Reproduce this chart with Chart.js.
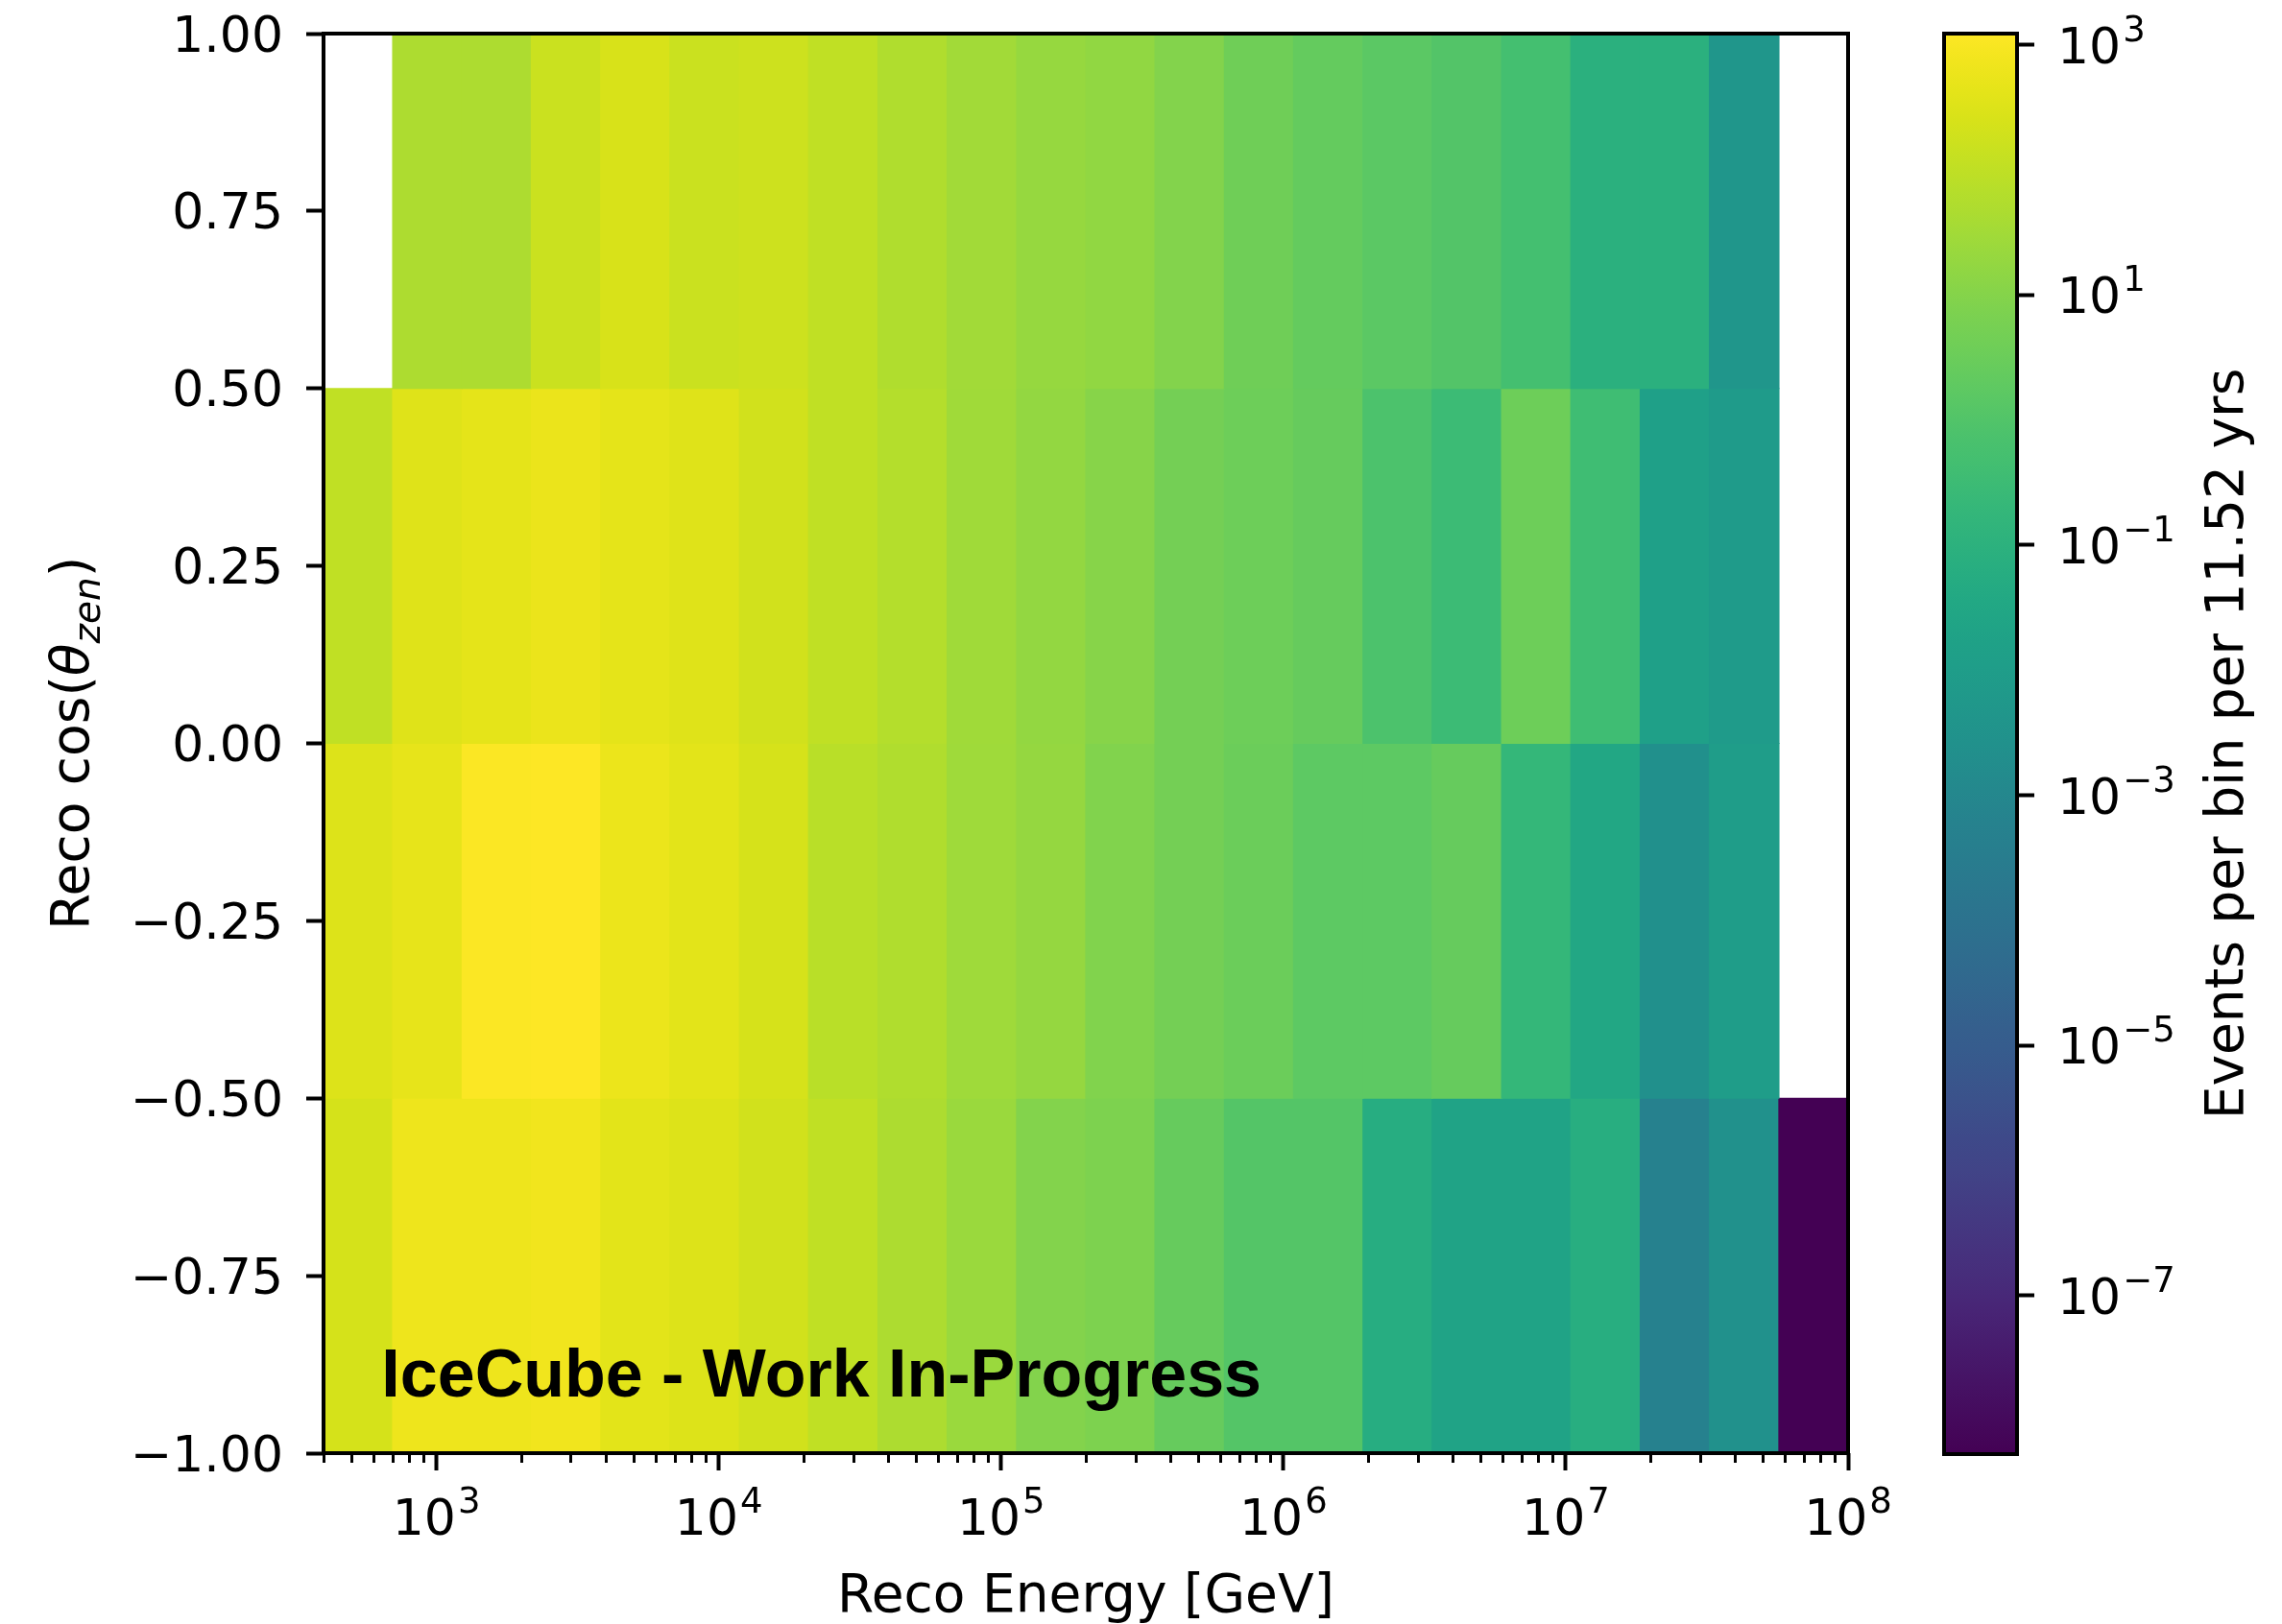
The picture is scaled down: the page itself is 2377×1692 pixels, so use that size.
<!DOCTYPE html>
<html><head><meta charset="utf-8">
<script src="https://cdn.jsdelivr.net/npm/chart.js@4/dist/chart.umd.min.js"></script>
<style>
html,body{margin:0;padding:0;background:#fff;overflow:hidden;}
#wrap{position:relative;width:2377px;height:1692px;background:#fff;}
#main{position:absolute;left:0;top:0;}
#cbar{position:absolute;left:1990px;top:0;}
</style></head><body>
<div id="wrap">
<canvas id="main" width="1990" height="1692"></canvas>
<canvas id="cbar" width="387" height="1692"></canvas>
</div>
<script>
// ---------------- data ----------------
// reconstructed energy bin edges, log10(E / GeV)
const energyEdgesLog10 = [2.600, 2.845, 3.091, 3.336, 3.582, 3.827, 4.073, 4.318, 4.564, 4.809, 5.055, 5.300, 5.545, 5.791, 6.036, 6.282, 6.527, 6.773, 7.018, 7.264, 7.509, 7.755, 8.000];
// reco cos(zenith) bins (top to bottom)
const cosZenRows = ['0.50 – 1.00', '0.00 – 0.50', '−0.50 – 0.00', '−1.00 – −0.50'];
// events per bin per 11.52 yrs (null = empty bin)
const eventsCos05to1   = [null, 46.8, 46.8, 152, 256, 152, 173, 103, 53.3, 31.6, 19.7, 16.4, 9.25, 3.90, 2.31, 1.56, 1.05, 0.481, 0.0879, 0.0879, 0.00434, null];
const eventsCos0to05   = [103, 333, 432, 561, 432, 333, 197, 103, 64.0, 29.2, 17.8, 11.1, 4.81, 3.51, 2.56, 0.769, 0.308, 3.51, 0.370, 0.0141, 0.00834, null];
const eventsCosM05to0  = [308, 468, 1150, 1230, 592, 400, 237, 78.9, 53.3, 27.7, 18.7, 8.55, 4.81, 3.24, 1.69, 1.69, 2.56, 0.192, 0.0333, 0.00244, 0.0095, null];
const eventsCosM1toM05 = [225, 640, 640, 729, 400, 308, 197, 103, 46.8, 23.1, 9.25, 7.50, 2.56, 1.14, 1.14, 0.0593, 0.0208, 0.0208, 0.0676, 0.000535, 0.00257, 5.4e-9];
// axis ticks
const xTickValues = [1e3, 1e4, 1e5, 1e6, 1e7, 1e8];
const xTickLabels = ['10^3', '10^4', '10^5', '10^6', '10^7', '10^8'];
const yTickValues = [-1, -0.75, -0.5, -0.25, 0, 0.25, 0.5, 0.75, 1];
const cbarTickValues = [1e3, 1e1, 1e-1, 1e-3, 1e-5, 1e-7];
const cbarTickLabels = ['10^3', '10^1', '10^−1', '10^−3', '10^−5', '10^−7'];

// ---------------- colormap (viridis) ----------------
const VIRIDIS = [[0,'#440154'],[0.1,'#482475'],[0.1111,'#482878'],[0.125,'#472d7b'],[0.1429,'#46327e'],[0.2,'#414487'],[0.2222,'#3e4989'],[0.25,'#3b528b'],[0.2857,'#365c8d'],[0.3,'#355f8d'],[0.3333,'#31688e'],[0.375,'#2c728e'],[0.4,'#2a788e'],[0.4286,'#277f8e'],[0.4444,'#26828e'],[0.5,'#21918c'],[0.5556,'#1f9e89'],[0.5714,'#1fa187'],[0.6,'#22a884'],[0.625,'#28ae80'],[0.6667,'#35b779'],[0.7,'#44bf70'],[0.7143,'#4ac16d'],[0.75,'#5ec962'],[0.7778,'#6ece58'],[0.8,'#7ad151'],[0.8571,'#a0da39'],[0.875,'#addc30'],[0.8889,'#b5de2b'],[0.9,'#bddf26'],[0.92,'#cae11f'],[0.94,'#d8e219'],[0.96,'#e5e419'],[0.98,'#f1e51d'],[1,'#fde725']];
function hex2rgb(h){return [parseInt(h.slice(1,3),16),parseInt(h.slice(3,5),16),parseInt(h.slice(5,7),16)];}
function viridis(t){
  t = Math.max(0, Math.min(1, t));
  for (let i = 1; i < VIRIDIS.length; i++) {
    if (t <= VIRIDIS[i][0]) {
      const [t0,c0] = VIRIDIS[i-1], [t1,c1] = VIRIDIS[i];
      const f = (t - t0) / (t1 - t0), a = hex2rgb(c0), b = hex2rgb(c1);
      return 'rgb(' + a.map((v,k) => Math.round(v + (b[k]-v)*f)).join(',') + ')';
    }
  }
  return VIRIDIS[VIRIDIS.length-1][1];
}

const rows = [eventsCos05to1, eventsCos0to05, eventsCosM05to0, eventsCosM1toM05];
const allVals = rows.flat().filter(v => v != null);
const vmin = Math.min(...allVals), vmax = Math.max(...allVals);
const lmin = Math.log10(vmin), lmax = Math.log10(vmax);
const colorFor = v => viridis((Math.log10(v) - lmin) / (lmax - lmin));

const FONT = 'DejaVu Sans';
const TICK_SIZE = 52;
const TICK_FONT = {family: FONT, size: TICK_SIZE};
const LABEL_SIZE = 55;
const zeroPad = s => { s.paddingTop = 0; s.paddingBottom = 0; s.paddingLeft = 0; s.paddingRight = 0; };

// draw "10^e" with a raised, smaller exponent
function drawPow(c, label, x, baseline, align) {
  const [base, exp] = label.split('^');
  const fMain = TICK_SIZE + 'px "' + FONT + '"', fSup = Math.round(TICK_SIZE * 0.71) + 'px "' + FONT + '"';
  c.font = fMain; const wb = c.measureText(base).width;
  c.font = fSup; const we = c.measureText(exp).width;
  const gap = 2;
  const x0 = align === 'center' ? x - (wb + gap + we) / 2 : x;
  c.textAlign = 'left'; c.textBaseline = 'alphabetic'; c.fillStyle = '#000';
  c.font = fMain; c.fillText(base, x0, baseline);
  c.font = fSup; c.fillText(exp, x0 + wb + gap, baseline - 23);
}

// ---------------- main 2D histogram ----------------
const datasets = rows.map((vals, r) => ({
  label: 'cos θ ' + cosZenRows[r],
  data: vals.map((v, i) => v == null ? null : {x: [Math.pow(10, energyEdgesLog10[i]), Math.pow(10, energyEdgesLog10[i+1])], y: cosZenRows[r], v: v}).filter(d => d),
  xAxisID: 'x', yAxisID: 'yc',
  backgroundColor: ctx => (ctx.raw && ctx.raw.v != null) ? colorFor(ctx.raw.v) : 'rgba(0,0,0,0)',
  borderWidth: 0, inflateAmount: 0.6,
  barPercentage: 1, categoryPercentage: 1, grouped: false
}));

const minorTicks = [];
for (let e = 2; e < 8; e++) for (let m = 2; m <= 9; m++) {
  const v = m * Math.pow(10, e);
  if (v >= Math.pow(10, energyEdgesLog10[0]) && v <= 1e8) minorTicks.push(v);
}

const framePlugin = {
  id: 'frame',
  afterDatasetsDraw(chart) {
    const {ctx, chartArea: a} = chart;
    ctx.save();
    ctx.strokeStyle = '#000'; ctx.lineWidth = 4;
    ctx.strokeRect(a.left, a.top, a.right - a.left, a.bottom - a.top);
    ctx.restore();
  }
};
const watermarkPlugin = {
  id: 'watermark',
  afterDatasetsDraw(chart) {
    const {ctx, chartArea: a} = chart;
    ctx.save();
    ctx.font = 'bold 70px "Liberation Sans", Arial, sans-serif';
    ctx.fillStyle = '#000'; ctx.textAlign = 'left'; ctx.textBaseline = 'alphabetic';
    ctx.fillText('IceCube - Work In-Progress', a.left + 0.038 * (a.right - a.left), a.bottom - 0.04 * (a.bottom - a.top));
    ctx.restore();
  }
};
const yTitlePlugin = {
  id: 'yTitle',
  afterDraw(chart) {
    const c = chart.ctx, a = chart.chartArea;
    const parts = [
      {t: 'Reco cos(', f: LABEL_SIZE + 'px "' + FONT + '"', dy: 0},
      {t: 'θ', f: 'italic ' + LABEL_SIZE + 'px "' + FONT + '"', dy: 0},
      {t: 'zen', f: 'italic ' + Math.round(LABEL_SIZE * 0.7) + 'px "' + FONT + '"', dy: 12},
      {t: ')', f: LABEL_SIZE + 'px "' + FONT + '"', dy: 0}
    ];
    c.save();
    let total = 0;
    parts.forEach(p => { c.font = p.f; p.w = c.measureText(p.t).width; total += p.w; });
    c.translate(92, (a.top + a.bottom) / 2);
    c.rotate(-Math.PI / 2);
    c.fillStyle = '#000'; c.textBaseline = 'alphabetic'; c.textAlign = 'left';
    let x = -total / 2;
    parts.forEach(p => { c.font = p.f; c.fillText(p.t, x, p.dy); x += p.w; });
    c.restore();
  }
};
const xTickLabelPlugin = {
  id: 'xTickLabels',
  afterDraw(chart) {
    const c = chart.ctx, s = chart.scales.x;
    c.save();
    xTickValues.forEach((v, i) => drawPow(c, xTickLabels[i], s.getPixelForValue(v), s.top + 85, 'center'));
    c.restore();
  }
};

new Chart(document.getElementById('main'), {
  type: 'bar',
  data: {datasets},
  options: {
    indexAxis: 'y',
    responsive: false, animation: false, devicePixelRatio: 1,
    layout: {padding: {top: 35, right: 65, left: 0, bottom: 0}},
    plugins: {legend: {display: false}, tooltip: {enabled: false}},
    scales: {
      x: {
        type: 'logarithmic', position: 'bottom', weight: 1, offset: false,
        min: Math.pow(10, energyEdgesLog10[0]), max: Math.pow(10, energyEdgesLog10[energyEdgesLog10.length-1]),
        afterBuildTicks: s => { s.ticks = xTickValues.map(v => ({value: v, major: true})); },
        afterFit: s => { s.height = 178; zeroPad(s); },
        ticks: {display: false, autoSkip: false},
        grid: {drawOnChartArea: false, tickLength: 18, tickWidth: 4, tickColor: '#000'},
        border: {display: false},
        title: {display: true, text: 'Reco Energy [GeV]', font: {family: FONT, size: LABEL_SIZE}, color: '#000', padding: {top: 0, bottom: -6}}
      },
      xm: {
        type: 'logarithmic', position: 'bottom', weight: 0, offset: false,
        min: Math.pow(10, energyEdgesLog10[0]), max: Math.pow(10, energyEdgesLog10[energyEdgesLog10.length-1]),
        afterBuildTicks: s => { s.ticks = minorTicks.map(v => ({value: v})); },
        afterFit: s => { s.height = 0; zeroPad(s); },
        ticks: {display: false},
        grid: {drawOnChartArea: false, tickLength: 10, tickWidth: 3, tickColor: '#000'},
        border: {display: false}
      },
      yc: {type: 'category', labels: cosZenRows, offset: true, display: false, position: 'left'},
      yv: {
        type: 'linear', position: 'left', min: -1, max: 1, offset: false, grace: 0,
        afterBuildTicks: s => { s.ticks = yTickValues.map(v => ({value: v})); },
        afterFit: s => { s.width = 337; zeroPad(s); },
        ticks: {callback: v => (v < 0 ? '−' : '') + Math.abs(v).toFixed(2), font: TICK_FONT, color: '#000', padding: 24, labelOffset: 5, autoSkip: false},
        grid: {drawOnChartArea: false, tickLength: 18, tickWidth: 4, tickColor: '#000', offset: false},
        border: {display: false}
      }
    }
  },
  plugins: [watermarkPlugin, framePlugin, yTitlePlugin, xTickLabelPlugin]
});

// ---------------- colorbar ----------------
const cbarLabelPlugin = {
  id: 'cbarLabel',
  afterDraw(chart) {
    const c = chart.ctx, a = chart.chartArea, s = chart.scales.y;
    c.save();
    cbarTickValues.forEach((v, i) => drawPow(c, cbarTickLabels[i], a.right + 42, s.getPixelForValue(v) + 19, 'left'));
    c.translate(346, (a.top + a.bottom) / 2);
    c.rotate(-Math.PI / 2);
    c.font = LABEL_SIZE + 'px "' + FONT + '"';
    c.fillStyle = '#000'; c.textAlign = 'center'; c.textBaseline = 'alphabetic';
    c.fillText('Events per bin per 11.52 yrs', 0, 0);
    c.restore();
  }
};
new Chart(document.getElementById('cbar'), {
  type: 'bar',
  data: {labels: ['colorbar'], datasets: [{
    data: [[vmin, vmax]],
    backgroundColor: ctx => {
      const ch = ctx.chart, y = ch.scales.y;
      if (!ch.chartArea || !y) return '#21918c';
      const g = ch.ctx.createLinearGradient(0, y.getPixelForValue(vmin), 0, y.getPixelForValue(vmax));
      VIRIDIS.forEach(([t, col]) => g.addColorStop(t, col));
      return g;
    },
    borderWidth: 0, barPercentage: 1, categoryPercentage: 1
  }]},
  options: {
    responsive: false, animation: false, devicePixelRatio: 1,
    layout: {padding: {top: 35, bottom: 177, left: 35, right: 0}},
    plugins: {legend: {display: false}, tooltip: {enabled: false}},
    scales: {
      x: {type: 'category', display: false, offset: true},
      y: {
        type: 'logarithmic', position: 'right', min: vmin, max: vmax, offset: false,
        afterBuildTicks: s => { s.ticks = cbarTickValues.map(v => ({value: v})); },
        afterFit: s => { s.width = 387 - 35 - 76; zeroPad(s); },
        ticks: {display: false, autoSkip: false},
        grid: {drawOnChartArea: false, tickLength: 18, tickWidth: 4, tickColor: '#000', offset: false},
        border: {display: false}
      }
    }
  },
  plugins: [framePlugin, cbarLabelPlugin]
});
</script>
</body></html>
